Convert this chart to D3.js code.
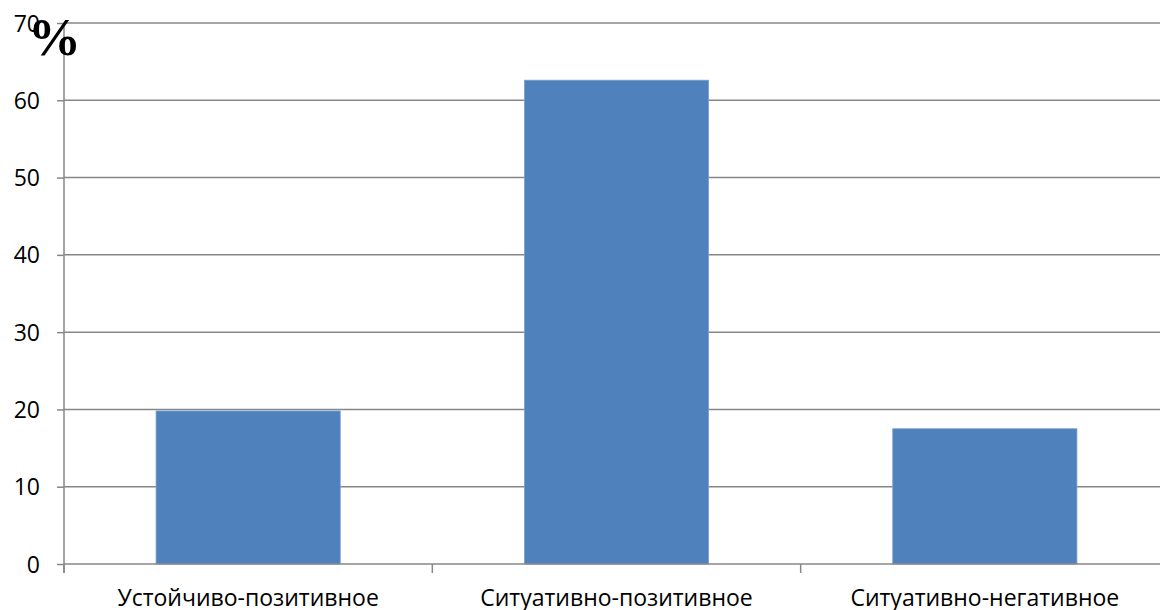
<!DOCTYPE html>
<html><head><meta charset="utf-8">
<script src="https://cdn.jsdelivr.net/npm/d3@7"></script>
<style>html,body{margin:0;padding:0;background:#fff;overflow:hidden}</style>
</head><body>
<svg id="chart" width="1160" height="610"></svg>
<script>
const categories = ["Устойчиво-позитивное", "Ситуативно-позитивное", "Ситуативно-негативное"];
const values = [19.8, 62.6, 17.5];
const yTicks = [0, 10, 20, 30, 40, 50, 60, 70];

const svg = d3.select("#chart");
const pLeft = 64, pRight = 1169, pTop = 23, pBottom = 564;
const x = d3.scaleBand().domain(categories).range([pLeft, pRight]).paddingInner(0.5).paddingOuter(0.25);
const y = d3.scaleLinear().domain([0, 70]).range([pBottom, pTop]);
const grid = "#878787";
const font = "Open Sans, Noto Sans, sans-serif";

// gridlines
svg.append("g").selectAll("line").data(yTicks.filter(d => d > 0)).join("line")
  .attr("x1", pLeft).attr("x2", 1160)
  .attr("y1", d => y(d)).attr("y2", d => y(d))
  .attr("stroke", grid).attr("stroke-width", 1.5);

// bars
svg.append("g").selectAll("rect").data(values).join("rect")
  .attr("x", (d, i) => x(categories[i]))
  .attr("width", x.bandwidth())
  .attr("y", d => y(d))
  .attr("height", d => y(0) - y(d))
  .attr("fill", "#4F81BD")
  .attr("stroke", "#7A9FCF").attr("stroke-width", 0.8);

// y axis
const yAxis = d3.axisLeft(y).tickValues(yTicks).tickSize(7).tickPadding(6);
const gy = svg.append("g").attr("transform", `translate(${pLeft},0)`).call(yAxis);
gy.select(".domain").attr("stroke", grid).attr("stroke-width", 1.5).attr("d", `M0,${pTop}V${pBottom+9}`);
gy.selectAll(".tick line").attr("stroke", grid).attr("stroke-width", 1.5);
gy.selectAll(".tick text").attr("font-family", font).attr("font-size", 23).attr("fill", "#000").attr("dy", "0.35em").attr("x", -24);

// x axis
const xEdges = d3.scaleLinear().domain([0, 3]).range([pLeft, pRight]);
const gx = svg.append("g");
gx.append("line").attr("x1", pLeft).attr("x2", 1160).attr("y1", pBottom).attr("y2", pBottom)
  .attr("stroke", grid).attr("stroke-width", 1.5);
gx.selectAll("line.t").data([0, 1, 2, 3]).join("line").attr("class", "t")
  .attr("x1", d => xEdges(d)).attr("x2", d => xEdges(d))
  .attr("y1", pBottom).attr("y2", pBottom + 9)
  .attr("stroke", grid).attr("stroke-width", 1.5);
gx.selectAll("text").data(categories).join("text")
  .attr("x", d => x(d) + x.bandwidth() / 2)
  .attr("y", 606)
  .attr("text-anchor", "middle")
  .attr("font-family", font).attr("font-size", 23).attr("fill", "#000")
  .text(d => d);

// percent sign
svg.append("text").attr("x", 28).attr("y", 55)
  .attr("font-family", "Liberation Serif, serif").attr("font-weight", "bold")
  .attr("font-size", 53).attr("fill", "#000").text("%");
</script>
</body></html>
